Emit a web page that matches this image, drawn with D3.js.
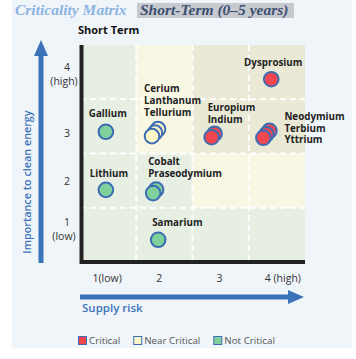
<!DOCTYPE html>
<html><head><meta charset="utf-8">
<script src="https://cdn.jsdelivr.net/npm/d3@7"></script>
<style>body{margin:0;background:#fff} svg{display:block}</style>
</head><body><svg id="c" width="356" height="359"></svg>
<script>
// ---- data ----
const elementGroups = [["Dysprosium"],["Gallium"],["Cerium","Lanthanum","Tellurium"],["Europium","Indium"],["Neodymium","Terbium","Yttrium"],["Lithium"],["Cobalt","Praseodymium"],["Samarium"]];
const supplyRisk = [3.9, 0.96, 1.78, 2.84, 3.76, 0.96, 1.8, 1.89];
const importance = [3.87, 2.9, 2.82, 2.8, 2.79, 1.83, 1.77, 0.91];
const status = ["Critical","Not Critical","Near Critical","Critical","Critical","Not Critical","Not Critical","Not Critical"];
const statusCategories = ["Critical","Near Critical","Not Critical"];
const supplyRiskTickLabels = ["1(low)","2","3","4 (high)"];
const importanceTickLabels = [["1","(low)"],["2"],["3"],["4","(high)"]];
// zone of each cell: rows = importance 1..4, columns = supply risk 1..4
const zoneGrid = [
  ["Not Critical","Not Critical","Not Critical","Not Critical"],
  ["Not Critical","Not Critical","Near Critical","Near Critical"],
  ["Not Critical","Near Critical","Critical","Critical"],
  ["Not Critical","Near Critical","Critical","Critical"]
];

// ---- style ----
const zoneFill = {"Critical":"#e9e9d5","Near Critical":"#f7f7e3","Not Critical":"#e7efe2"};
const markerFill = {"Critical":"#f0464f","Near Critical":"#fcf7c9","Not Critical":"#80d09c"};
const blue = "#3b73b9";
const labelPlacement = [
  {anchor:"middle", dx:2, dy:-17},
  {anchor:"middle", dx:2, dy:-18},
  {anchor:"start", dx:-8, dy:-24},
  {anchor:"start", dx:-4, dy:-18},
  {anchor:"start", dx:21, dy:2},
  {anchor:"middle", dx:3, dy:-16},
  {anchor:"start", dx:-5, dy:-20},
  {anchor:"start", dx:-6, dy:-17}
];
const xTickNudge = [-1,-5,-1,6];
const yTickNudge = [-13,1,7,-5];

const svg = d3.select("#c");
const x = d3.scaleLinear().domain([0.5,4.5]).range([80,305]);
const y = d3.scaleLinear().domain([0.5,4.5]).range([262,45]);

// panel
svg.append("rect").attr("x",12).attr("y",0).attr("width",340).attr("height",348).attr("fill","#f0f5fa");

// title
svg.append("text").attr("x",15).attr("y",15)
  .attr("font-family","'Liberation Serif', serif").attr("font-weight","bold").attr("font-style","italic")
  .attr("font-size",15.5).attr("fill","#8db4e2").text("Criticality Matrix");
svg.append("rect").attr("x",137).attr("y",3).attr("width",157).attr("height",15).attr("fill","#c6cace");
svg.append("text").attr("x",140).attr("y",15)
  .attr("font-family","'Liberation Serif', serif").attr("font-weight","bold").attr("font-style","italic")
  .attr("font-size",15.5).attr("fill","#3d4f72").text("Short-Term (0\u20135 years)");

svg.append("text").attr("x",78).attr("y",34).attr("font-family","'Open Sans', sans-serif")
  .attr("font-weight","bold").attr("font-size",11).attr("fill","#111").text("Short Term");

// cells
const cells = [];
zoneGrid.forEach((row,i)=>row.forEach((z,j)=>cells.push({imp:i+1, sup:j+1, zone:z})));
svg.append("g").selectAll("rect").data(cells).join("rect")
  .attr("x",d=>x(d.sup-0.5)).attr("y",d=>y(d.imp+0.5))
  .attr("width",d=>x(d.sup+0.5)-x(d.sup-0.5)).attr("height",d=>y(d.imp-0.5)-y(d.imp+0.5))
  .attr("fill",d=>zoneFill[d.zone]);

// dashed grid
const gl = svg.append("g").attr("stroke","#fff").attr("stroke-width",2).attr("stroke-dasharray","6,4");
[1.5,2.5,3.5].forEach(v=>{
  gl.append("line").attr("x1",x(v)).attr("x2",x(v)).attr("y1",y(4.5)).attr("y2",y(0.5));
  gl.append("line").attr("y1",y(v)).attr("y2",y(v)).attr("x1",x(0.5)).attr("x2",x(4.5));
});

// black axes
svg.append("line").attr("x1",x(0.5)+1.5).attr("x2",x(0.5)+1.5).attr("y1",y(4.5)).attr("y2",y(0.5)+2)
  .attr("stroke","#222").attr("stroke-width",4);
svg.append("line").attr("x1",x(0.5)).attr("x2",x(4.5)).attr("y1",y(0.5)).attr("y2",y(0.5))
  .attr("stroke","#222").attr("stroke-width",4);

// x tick labels
svg.append("g").selectAll("text").data(supplyRiskTickLabels).join("text")
  .attr("x",(d,i)=>x(i+1)+xTickNudge[i]).attr("y",282).attr("text-anchor","middle")
  .attr("font-family","'Open Sans', sans-serif").attr("font-size",10.5).attr("fill","#333").text(d=>d);

// y tick labels
const yt = svg.append("g").attr("font-family","'Open Sans', sans-serif").attr("font-size",10.5).attr("fill","#333");
importanceTickLabels.forEach((lines,i)=>{
  lines.forEach((s,k)=>{
    yt.append("text").attr("x",k===0?67:64).attr("y",y(i+1)+yTickNudge[i]+k*14+3.7)
      .attr("text-anchor","middle").text(s);
  });
});

// markers
const mg = svg.append("g");
elementGroups.forEach((names,i)=>{
  const cx = x(supplyRisk[i]), cy = y(importance[i]);
  for(let k=names.length-1;k>=0;k--){
    mg.append("circle").attr("cx",cx+k*3).attr("cy",cy-k*3.5).attr("r",7.3)
      .attr("fill",markerFill[status[i]]).attr("stroke","#3c6db3").attr("stroke-width",2);
  }
  const p = labelPlacement[i];
  names.forEach((s,li)=>{
    mg.append("text").attr("x",cx+p.dx).attr("y",cy+p.dy-(names.length-1-li)*11.7+3.5)
      .attr("text-anchor",p.anchor).attr("font-family","'Open Sans', sans-serif")
      .attr("font-weight","bold").attr("font-size",9.8).attr("fill","#222").text(s);
  });
});

// blue arrows
svg.append("rect").attr("x",38.5).attr("y",54).attr("width",5).attr("height",209).attr("fill",blue);
svg.append("path").attr("d","M41,40 L34,56 L48,56 Z").attr("fill",blue);
svg.append("rect").attr("x",80).attr("y",294.5).attr("width",210).attr("height",5).attr("fill",blue);
svg.append("path").attr("d","M304,297 L288,290 L288,304 Z").attr("fill",blue);

svg.append("text").attr("transform","translate(31,182) rotate(-90)").attr("text-anchor","middle")
  .attr("font-family","'Open Sans', sans-serif").attr("font-weight",600).attr("font-size",10.8)
  .attr("fill",blue).text("Importance to clean energy");
svg.append("text").attr("x",82).attr("y",312)
  .attr("font-family","'Open Sans', sans-serif").attr("font-weight",600).attr("font-size",11.5)
  .attr("fill",blue).text("Supply risk");

// legend
let lx = 78;
const lg = svg.append("g");
statusCategories.forEach(c=>{
  lg.append("rect").attr("x",lx+0.5).attr("y",336.5).attr("width",8).attr("height",8)
    .attr("fill",markerFill[c]).attr("stroke","#3c6db3").attr("stroke-width",1);
  const t = lg.append("text").attr("x",lx+11).attr("y",344).attr("font-family","'Open Sans', sans-serif")
    .attr("font-size",9.8).attr("fill","#555").text(c);
  lx += 11 + t.node().getComputedTextLength() + 13;
});
</script></body></html>
